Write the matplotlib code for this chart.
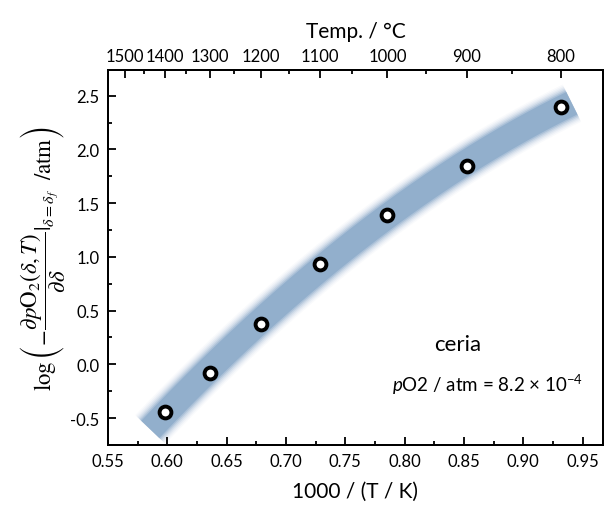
import numpy as np
import matplotlib
matplotlib.use("Agg")
import matplotlib.pyplot as plt
from matplotlib.ticker import MultipleLocator, FixedLocator

# measured points: temperature (deg C) and log(-dpO2/dδ)
temps_c = [1400, 1300, 1200, 1100, 1000, 900, 800]
log_slope = [-0.44, -0.08, 0.38, 0.93, 1.39, 1.85, 2.39]

# top axis labels
top_major_c = [1500, 1400, 1300, 1200, 1100, 1000, 900, 800]
top_minor_c = [1450, 1350, 1250, 1150, 1050, 950, 850]


def inv_t(t_c):
    return 1000.0 / (np.asarray(t_c, dtype=float) + 273.15)


plt.rcParams["font.family"] = ["Lato", "DejaVu Sans"]
plt.rcParams["mathtext.fontset"] = "custom"
plt.rcParams["mathtext.rm"] = "Lato"
plt.rcParams["mathtext.it"] = "Lato:italic"

fig = plt.figure(figsize=(6.05, 5.06), dpi=100)
ax = fig.add_axes([0.1785, 0.1186, 0.818, 0.7414])

x = inv_t(temps_c)
y = np.array(log_slope)

# blurred guide band through the points
coef = np.polyfit(x, y, 2)
xb = np.linspace(x.min() - 0.012, x.max() + 0.009, 200)
yb = np.polyval(coef, xb)
band = "#8aa9c9"
for lw, a in [(30, 0.05), (28, 0.08), (26, 0.11), (24, 0.16),
              (22, 0.25), (20, 0.4), (18, 0.75)]:
    ax.plot(xb, yb, color=band, lw=lw, alpha=a, solid_capstyle="butt", zorder=1)

ax.plot(x, y, "o", ms=8.5, mfc="white", mec="black", mew=2.8, zorder=3)

ax.set_xlim(0.55, 0.967)
ax.set_ylim(-0.75, 2.74)
ax.xaxis.set_major_locator(MultipleLocator(0.05))
ax.xaxis.set_minor_locator(MultipleLocator(0.025))
ax.yaxis.set_major_locator(MultipleLocator(0.5))
ax.yaxis.set_minor_locator(MultipleLocator(0.25))
ax.xaxis.set_major_formatter(plt.FormatStrFormatter("%.2f"))
ax.yaxis.set_major_formatter(plt.FormatStrFormatter("%.1f"))
ax.tick_params(which="both", direction="in", top=False, right=False,
               labelsize=12, width=1.3)
ax.tick_params(which="major", length=6, pad=6)
ax.tick_params(which="minor", length=3)
for s in ax.spines.values():
    s.set_linewidth(1.4)

ax.set_xlabel("1000 / (T / K)", fontsize=15, labelpad=8)
ylab = ax.set_ylabel(
    r"$\log\left(-\dfrac{\partial p\mathrm{O}_2(\delta,T)}{\partial\delta}|_{\delta=\delta_f}\ \ /\mathrm{atm}\right)$",
    fontsize=16.5, labelpad=2)
ylab.set_math_fontfamily("stix")

# top temperature axis
top = ax.twiny()
top.set_xlim(ax.get_xlim())
top.xaxis.set_major_locator(FixedLocator(inv_t(top_major_c)))
top.xaxis.set_minor_locator(FixedLocator(inv_t(top_minor_c)))
top.set_xticklabels([str(t) for t in top_major_c])
top.tick_params(which="both", direction="in", labelsize=12, width=1.3)
top.tick_params(which="major", length=6, pad=4)
top.tick_params(which="minor", length=3)
top.set_xlabel("Temp. / \u00b0C", fontsize=15, labelpad=8)
for s in top.spines.values():
    s.set_linewidth(1.4)

ax.text(0.707, 0.269, "ceria", transform=ax.transAxes, fontsize=16,
        ha="center", va="center")
ax.text(0.768, 0.163, r"$p$O2 / atm = 8.2 $\times$ 10$^{\mathregular{-4}}$",
        transform=ax.transAxes, fontsize=13.5, ha="center", va="center")

fig.savefig("out.png", dpi=100, facecolor="white")
